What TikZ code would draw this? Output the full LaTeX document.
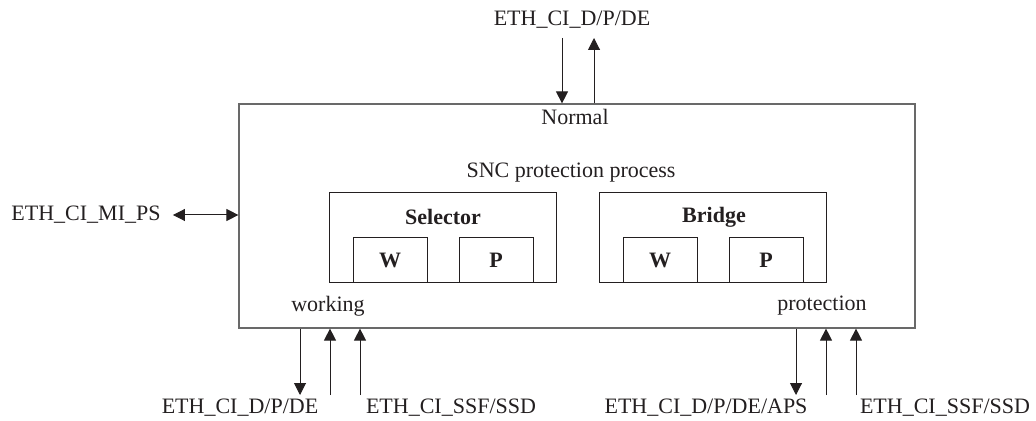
\documentclass[tikz,border=0pt]{standalone}
\usepackage{fontspec}
\setmainfont{Liberation Serif}
\usetikzlibrary{arrows.meta, positioning, calc}
\definecolor{framegray}{RGB}{105, 105, 105}
\definecolor{linedark}{RGB}{35, 31, 32}

\begin{document}
\begin{tikzpicture}[
          x=0.5pt, y=-0.5pt,
          every node/.style={font=\fontsize{11}{13}\selectfont, text=linedark},
          frame/.style={draw=framegray, line width=0.6pt, inner sep=0pt},
          inbox/.style={draw=linedark, line width=0.5pt, inner sep=0pt},
          lbl/.style={inner sep=1pt},
          blbl/.style={inner sep=1pt, font=\fontsize{11}{13}\selectfont\bfseries},
          arr/.style={-{Triangle[length=6pt, width=6pt]}, line width=0.5pt, draw=linedark},
          dblarr/.style={{Triangle[length=6pt, width=6pt]}-{Triangle[length=6pt, width=6pt]}, line width=0.5pt, draw=linedark},
        ]
        \useasboundingbox (0,0) rectangle (1036,421);

        % main block
        \node[frame, minimum width=338pt, minimum height=112pt] (snc) at (577,216) {};
        \node[lbl] (normal) at (575,117) {Normal};
        \node[lbl] (proc)   at (571,173) {SNC protection process};
        \node[lbl] (work)   at (328,306) {working};
        \node[lbl] (prot)   at (822,306) {protection};

        % selector and bridge
        \node[inbox, minimum width=113.5pt, minimum height=45pt] (sel) at (442.5,238) {};
        \node[inbox, minimum width=113.5pt, minimum height=45pt] (brg) at (712.5,238) {};
        \node[blbl] (seltxt) at (443,217) {Selector};
        \node[blbl] (brgtxt) at (714,217) {Bridge};
        \node[inbox, blbl, minimum width=37pt, minimum height=22.5pt] (selw) at (390,260.5) {W};
        \node[inbox, blbl, minimum width=37pt, minimum height=22.5pt] (selp) at (496,260.5) {P};
        \node[inbox, blbl, minimum width=37pt, minimum height=22.5pt] (brgw) at (660,260.5) {W};
        \node[inbox, blbl, minimum width=37pt, minimum height=22.5pt] (brgp) at (766,260.5) {P};

        % outside labels
        \node[lbl] (top)   at (572,20)  {ETH\_CI\_D/P/DE};
        \node[lbl] (mips)  at (86,215)  {ETH\_CI\_MI\_PS};
        \node[lbl] (wdata) at (240,408) {ETH\_CI\_D/P/DE};
        \node[lbl] (wssf)  at (451,408) {ETH\_CI\_SSF/SSD};
        \node[lbl] (pdata) at (706,408) {ETH\_CI\_D/P/DE/APS};
        \node[lbl] (pssf)  at (945,408) {ETH\_CI\_SSF/SSD};

        % free ends of the connectors
        \coordinate (tin)  at (562,38);
        \coordinate (tout) at (594,38);
        \coordinate (win)  at (300,395);
        \coordinate (wout) at (330,395);
        \coordinate (wsf)  at (360,395);
        \coordinate (pin)  at (796,395);
        \coordinate (pout) at (826,395);
        \coordinate (psf)  at (856,395);

        \draw[arr] (tin) -- (tin |- snc.north);
        \draw[arr] (tout |- snc.north) -- (tout);
        \draw[dblarr] ([xshift=5pt]mips.east) -- (mips.east -| snc.west);
        \draw[arr] (win |- snc.south) -- (win);
        \draw[arr] (wout) -- (wout |- snc.south);
        \draw[arr] (wsf) -- (wsf |- snc.south);
        \draw[arr] (pin |- snc.south) -- (pin);
        \draw[arr] (pout) -- (pout |- snc.south);
        \draw[arr] (psf) -- (psf |- snc.south);
      \end{tikzpicture}
\end{document}
